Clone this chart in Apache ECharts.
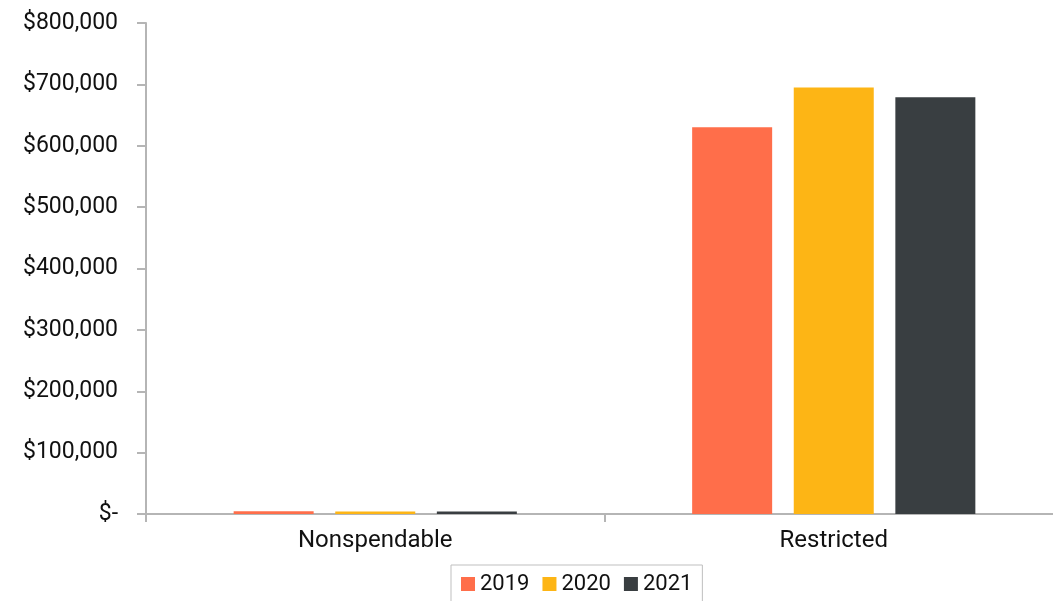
<!DOCTYPE html>
<html style="height: 100%;width:100%">
<head>
    <meta charset="utf-8">
</head>
<body style="height: 100%; width:100%; margin:0">
<div id="chart-panel" style="height: 601px;width: 1053px"></div>
<script type="text/javascript" src="https://cdn.jsdelivr.net/npm/echarts@6/dist/echarts.min.js"></script>
<script type="text/javascript">
// data
var categories = ['Nonspendable', 'Restricted'];
var years = ['2019', '2020', '2021'];
var v2019 = [4500, 630000];
var v2020 = [4000, 695000];
var v2021 = [4000, 679000];
var yTicks = [0, 100000, 200000, 300000, 400000, 500000, 600000, 700000, 800000];

var colors = ['#FF6E4A', '#FDB515', '#393E41'];
var seriesValues = [v2019, v2020, v2021];

var myChart = echarts.init(document.getElementById('chart-panel'));

function money(v) {
    if (v === 0) return '$-';
    return '$' + v.toLocaleString('en-US');
}

var series = [];
for (var i = 0; i < years.length; i++) {
    series.push({
        name: years[i],
        type: 'bar',
        data: seriesValues[i],
        barWidth: 80,
        barGap: '27%',
        itemStyle: { color: colors[i] }
    });
}

var option = {
    animation: false,
    backgroundColor: '#fff',
    color: colors,
    textStyle: { fontFamily: 'Roboto' },
    grid: { left: 146, width: 917, top: 23, bottom: 87, outerBoundsMode: 'none' },
    legend: {
        data: years,
        top: 565,
        left: 451,
        padding: [8, 10, 12, 10],
        borderColor: '#BFBFBF',
        borderWidth: 1,
        itemWidth: 14,
        itemHeight: 14,
        itemGap: 13,
        icon: 'rect',
        textStyle: { fontSize: 22, color: '#111', fontFamily: 'Roboto' }
    },
    xAxis: {
        type: 'category',
        data: categories,
        axisLine: { lineStyle: { color: '#B5B5B5', width: 2 } },
        axisTick: { show: true, length: 8, lineStyle: { color: '#B5B5B5', width: 2 } },
        axisLabel: { fontSize: 24, color: '#111', margin: 15, fontFamily: 'Roboto' }
    },
    yAxis: {
        type: 'value',
        min: yTicks[0],
        max: yTicks[yTicks.length - 1],
        interval: yTicks[1] - yTicks[0],
        splitLine: { show: false },
        axisLine: { show: true, lineStyle: { color: '#B5B5B5', width: 2 } },
        axisTick: { show: true, length: 9, lineStyle: { color: '#B5B5B5', width: 2 } },
        axisLabel: {
            fontSize: 23,
            color: '#111',
            margin: 28,
            fontFamily: 'Roboto',
            formatter: money
        }
    },
    series: series
};

myChart.setOption(option);
</script>
</body>
</html>
